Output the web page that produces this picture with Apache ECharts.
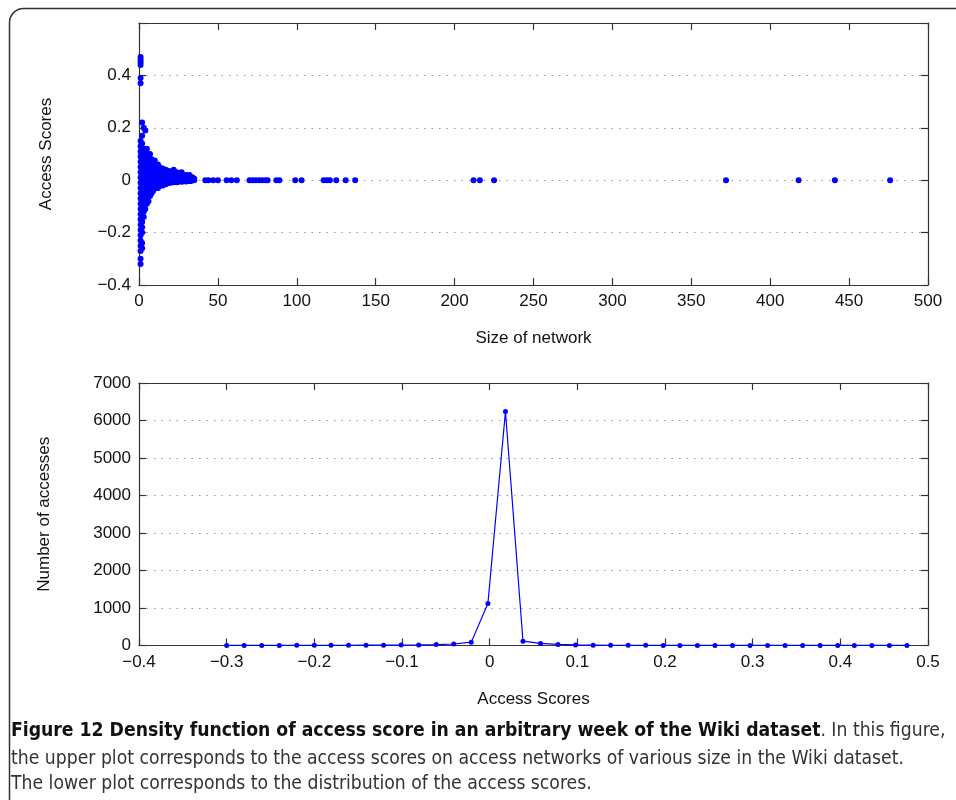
<!DOCTYPE html>
<html>
<head>
<meta charset="utf-8">
<script src="https://cdn.jsdelivr.net/npm/echarts@6/dist/echarts.min.js"></script>
<style>
html,body{margin:0;padding:0;background:#fff;}
#chart{width:956px;height:800px;}
</style>
</head>
<body>
<div id="chart"></div>
<script>
// ---- Upper plot: access score vs. network size (hand-read columns) ----
const denseColumns = [
  [1, [0.47,0.46,0.45,0.44,0.39,0.37,0.15,0.13,0.11,0.09,0.07,0.05,0.03,0.01,-0.01,-0.03,-0.05,-0.07,-0.09,-0.11,-0.13,-0.15,-0.17,-0.19,-0.21,-0.23,-0.25,-0.27,-0.30,-0.32]],
  [2, [0.22,0.17,0.14,0.12,0.10,0.08,0.06,0.04,0.02,0,-0.02,-0.04,-0.06,-0.08,-0.10,-0.12,-0.14,-0.16,-0.18,-0.20,-0.24,-0.26]],
  [3, [0.20,0.12,0.10,0.08,0.06,0.04,0.02,0,-0.02,-0.04,-0.06,-0.08,-0.10,-0.12,-0.14]],
  [4, [0.19,0.11,0.09,0.07,0.05,0.03,0.01,-0.01,-0.03,-0.05,-0.07,-0.09,-0.11]],
  [5, [0.12,0.09,0.07,0.05,0.03,0.01,-0.01,-0.03,-0.05,-0.07,-0.09]],
  [6, [0.10,0.08,0.06,0.04,0.02,0,-0.02,-0.04,-0.06,-0.08]],
  [7, [0.10,0.07,0.05,0.03,0.01,-0.01,-0.03,-0.05,-0.06]],
  [8, [0.08,0.06,0.04,0.02,0,-0.02,-0.04,-0.05]],
  [9, [0.06,0.04,0.02,0,-0.02,-0.04]],
  [10, [0.075,0.05,0.03,0.01,-0.01,-0.03]],
  [11, [0.05,0.03,0.01,-0.01,-0.03]],
  [12, [0.06,0.04,0.02,0,-0.02,-0.03]],
  [13, [0.05,0.03,0.01,-0.01,-0.02]],
  [14, [0.04,0.02,0,-0.02]],
  [15, [0.045,0.03,0.01,-0.01,-0.02]],
  [16, [0.035,0.02,0.005,-0.01]],
  [17, [0.04,0.02,0,-0.015]],
  [18, [0.03,0.015,0,-0.01]],
  [19, [0.035,0.02,0.005,-0.01]],
  [20, [0.03,0.015,0,-0.01]],
  [21, [0.025,0.01,-0.005]],
  [22, [0.04,0.02,0.005,-0.008]],
  [23, [0.025,0.01,-0.005]],
  [24, [0.03,0.015,0,-0.008]],
  [25, [0.02,0.008,-0.005]],
  [26, [0.025,0.01,-0.004]],
  [27, [0.03,0.015,0.003,-0.006]],
  [28, [0.02,0.008,-0.004]],
  [29, [0.018,0.006,-0.004]],
  [30, [0.02,0.01,0,-0.005]],
  [31, [0.015,0.005,-0.003]],
  [32, [0.02,0.008,-0.003]],
  [33, [0.012,0.004,-0.003]],
  [34, [0.01,0.002]],
  [35, [0.006,0]]
];
const sparseSizes  = [42,44,47,50,55.5,58.5,62,70,72,74,76,78,80,81.5,87,89,99,103,117,119,121,125,131,137,212,216,225,372,418,441,476];
const sparseScores = [0,0,0,0,0,0,0,0,0,0,0,0,0,0,0,0,0,0,0,0,0,0,0,0,0,0,0,0,0,0,0];

// ---- Lower plot: histogram of access scores ----
const binCenters = [-0.300,-0.280,-0.260,-0.240,-0.220,-0.200,-0.181,-0.161,-0.141,-0.121,
                    -0.101,-0.081,-0.061,-0.041,-0.021,-0.002,0.018,0.038,0.058,0.078,
                    0.098,0.118,0.138,0.158,0.178,0.198,0.217,0.237,0.257,0.277,
                    0.297,0.317,0.337,0.357,0.377,0.397,0.416,0.436,0.456,0.476];
const accessCounts = [2,2,3,3,4,5,5,6,8,10,
                      12,15,25,40,90,1120,6240,115,55,28,
                      15,10,6,5,4,3,3,2,2,2,
                      2,1,1,1,1,1,1,1,1,1];

// tick settings
const upperXTicks = {min:0, max:500, interval:50};
const upperYTicks = {min:-0.4, max:0.6, interval:0.2};
const lowerXTicks = {min:-0.4, max:0.5, interval:0.1};
const lowerYTicks = {min:0, max:7000, interval:1000};

const scatterData = [];
denseColumns.forEach(([s, arr]) => arr.forEach(v => scatterData.push([s, v])));
sparseSizes.forEach((s, i) => scatterData.push([s, sparseScores[i]]));
const lineData = binCenters.map((x, i) => [x, accessCounts[i]]);

const FONT = "'Liberation Sans', Arial, Helvetica, sans-serif";
const CAP = "'DejaVu Sans Condensed','Liberation Sans Narrow',sans-serif";
const AX = '#333';
const fmtNum = v => {
  const r = Math.round(v * 1000) / 1000;
  return String(r).replace('-', '\u2212');
};

function xAx(grid, t, pos, label, name) {
  return {
    type:'value', gridIndex:grid, position:pos, min:t.min, max:t.max, interval:t.interval,
    axisLine:{show:true, onZero:false, lineStyle:{color:AX, width:1.2}},
    axisTick:{show:true, inside:true, length:7, lineStyle:{color:AX, width:1.2}},
    axisLabel:{show:label, fontSize:17, color:'#111', fontFamily:FONT, margin:8, formatter:fmtNum},
    splitLine:{show:false},
    name: name || '', nameLocation:'middle', nameGap:45,
    nameTextStyle:{fontSize:17, color:'#111', fontFamily:FONT}
  };
}
function yAx(grid, t, pos, label, name, hideTop) {
  return {
    type:'value', gridIndex:grid, position:pos, min:t.min, max:t.max, interval:t.interval,
    axisLine:{show:true, onZero:false, lineStyle:{color:AX, width:1.2}},
    axisTick:{show:true, inside:true, length:7, lineStyle:{color:AX, width:1.2}},
    axisLabel:{show:label, fontSize:17, color:'#111', fontFamily:FONT, margin:8,
      formatter: v => (hideTop && Math.abs(v - t.max) < 1e-9) ? '' : fmtNum(v)},
    splitLine:{show:label, lineStyle:{color:'#999', width:1, type:[1.5,6]}},
    name: name || '', nameLocation:'middle', nameGap: grid === 0 ? 84 : 86,
    nameTextStyle:{fontSize:17, color:'#111', fontFamily:FONT}
  };
}

const chart = echarts.init(document.getElementById('chart'), null, {renderer:'canvas'});
chart.setOption({
  animation:false,
  backgroundColor:'#fff',
  grid:[
    {left:139, top:23, width:789, height:262},
    {left:139, top:383, width:789, height:262.5}
  ],
  xAxis:[
    xAx(0, upperXTicks, 'bottom', true, 'Size of network'),
    xAx(0, upperXTicks, 'top', false),
    xAx(1, lowerXTicks, 'bottom', true, 'Access Scores'),
    xAx(1, lowerXTicks, 'top', false)
  ],
  yAxis:[
    yAx(0, upperYTicks, 'left', true, 'Access Scores', true),
    yAx(0, upperYTicks, 'right', false),
    yAx(1, lowerYTicks, 'left', true, 'Number of accesses', false),
    yAx(1, lowerYTicks, 'right', false)
  ],
  series:[
    {type:'scatter', xAxisIndex:0, yAxisIndex:0, data:scatterData,
     symbol:'circle', symbolSize:6, itemStyle:{color:'#0000ff', opacity:1}},
    {type:'line', xAxisIndex:2, yAxisIndex:2, data:lineData,
     symbol:'circle', symbolSize:5, showSymbol:true,
     lineStyle:{color:'#0000ff', width:1.2}, itemStyle:{color:'#0000ff'}}
  ],
  graphic:[
    {type:'rect', left:7, top:6, silent:true,
     shape:{x:0, y:0, width:1000, height:850, r:14},
     style:{fill:null, stroke:'#333', lineWidth:1.5}},
    {type:'text', left:11, top:722, silent:true,
     style:{
       text:'{b|Figure 12 Density function of access score in an arbitrary week of the Wiki dataset}{n|. In this figure,}',
       rich:{
         b:{fontSize:19.2, fontWeight:'bold', fontFamily:CAP, fill:'#111'},
         n:{fontSize:19.2, fontFamily:CAP, fill:'#333'}
       }
     }},
    {type:'text', left:11, top:750, silent:true,
     style:{text:'the upper plot corresponds to the access scores on access networks of various size in the Wiki dataset.',
       fontSize:19.2, fontFamily:CAP, fill:'#333'}},
    {type:'text', left:11, top:775, silent:true,
     style:{text:'The lower plot corresponds to the distribution of the access scores.',
       fontSize:19.2, fontFamily:CAP, fill:'#333'}}
  ]
});
</script>
</body>
</html>
